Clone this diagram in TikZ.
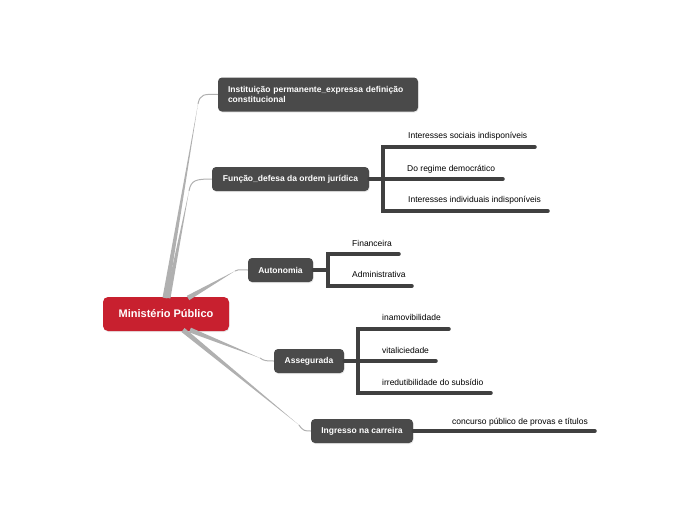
\documentclass[tikz,border=0pt]{standalone}
\usepackage{fontspec}
\setmainfont{Liberation Sans}
\usetikzlibrary{calc,shadows}
\definecolor{rootred}{HTML}{C8202F}
\definecolor{boxgray}{HTML}{4A4A4A}
\definecolor{linegray}{HTML}{404040}
\definecolor{conngray}{HTML}{B0B0B0}
\tikzset{
  topicbox/.style={draw=none, fill=boxgray, rounded corners=4pt, text=white,
    font=\bfseries\fontsize{8.5}{10}\selectfont, inner sep=0pt,
    drop shadow={opacity=0.18, shadow xshift=0.6pt, shadow yshift=-1pt}},
  rootbox/.style={draw=none, fill=rootred, rounded corners=5pt, text=white,
    font=\bfseries\fontsize{11}{13}\selectfont, inner sep=0pt,
    drop shadow={opacity=0.18, shadow xshift=0.6pt, shadow yshift=-1pt}},
  leaftext/.style={anchor=base west, inner sep=0pt, text=black,
    font=\fontsize{8.5}{10}\selectfont},
  subline/.style={draw=linegray, line width=3.5pt, line cap=round},
  taper/.style={fill=conngray, draw=none},
  thinconn/.style={draw=conngray, line width=1pt}
}
\begin{document}
\begin{tikzpicture}[x=1pt,y=-1pt]
\useasboundingbox (0,0) rectangle (697,520);

% nodes
\node[rootbox, minimum width=126pt, minimum height=34pt] (root) at (166,314) {Ministério Público};
\node[topicbox, minimum width=200pt, minimum height=34pt, text width=180pt, align=left] (inst) at (318,94.5)
  {Instituição permanente\_expressa definição\\constitucional};
\node[topicbox, minimum width=157pt, minimum height=24pt] (func) at (290.5,179) {Função\_defesa da ordem jurídica};
\node[topicbox, minimum width=65pt, minimum height=24pt] (auto) at (280.5,270) {Autonomia};
\node[topicbox, minimum width=70pt, minimum height=24pt] (asse) at (309,361) {Assegurada};
\node[topicbox, minimum width=102pt, minimum height=24pt] (ingr) at (362,431) {Ingresso na carreira};

% tapered connectors from root
\coordinate (s1) at (165,298); \coordinate (b1) at (198,104);
\coordinate (s2) at (168,298); \coordinate (b2) at (189,191);
\coordinate (s3) at (188,298); \coordinate (b3) at (235,271);
\coordinate (s4) at (190,330); \coordinate (b4) at (260,358);
\coordinate (s5) at (183,330); \coordinate (b5) at (299,425);

\fill[taper] ($(s1)!2.5pt!90:(b1)$) -- (b1) -- ($(s1)!2.5pt!-90:(b1)$) -- cycle;
\draw[thinconn] (b1) .. controls (200,94) and (204,94) .. (inst.west);
\fill[taper] ($(s2)!2.5pt!90:(b2)$) -- (b2) -- ($(s2)!2.5pt!-90:(b2)$) -- cycle;
\draw[thinconn] (b2) .. controls (191,180) and (196,179) .. (func.west);
\fill[taper] ($(s3)!2.5pt!90:(b3)$) -- (b3) -- ($(s3)!2.5pt!-90:(b3)$) -- cycle;
\draw[thinconn] (b3) .. controls (239,269) and (242,270) .. (auto.west);
\fill[taper] ($(s4)!2.5pt!90:(b4)$) -- (b4) -- ($(s4)!2.5pt!-90:(b4)$) -- cycle;
\draw[thinconn] (b4) .. controls (264,361) and (267,361) .. (asse.west);
\fill[taper] ($(s5)!2.5pt!90:(b5)$) -- (b5) -- ($(s5)!2.5pt!-90:(b5)$) -- cycle;
\draw[thinconn] (b5) .. controls (303,431) and (305,431) .. (ingr.west);

% Função branches
\coordinate (fj) at (383,179);
\coordinate (f1) at (535,147); \coordinate (f2) at (503,179); \coordinate (f3) at (548,211);
\draw[subline] (func.east) -- (fj);
\draw[subline] (f1) -- (383,147) -- (383,211) -- (f3);
\draw[subline] (fj) -- (f2);
\node[leaftext] (f1t) at (408,138) {Interesses sociais indisponíveis};
\node[leaftext] (f2t) at (407,171) {Do regime democrático};
\node[leaftext] (f3t) at (408,202) {Interesses individuais indisponíveis};

% Autonomia branches
\coordinate (aj) at (328,270);
\coordinate (a1) at (399,254); \coordinate (a2) at (412,286);
\draw[subline] (auto.east) -- (aj);
\draw[subline] (a1) -- (328,254) -- (328,286) -- (a2);
\node[leaftext] (a1t) at (352,246) {Financeira};
\node[leaftext] (a2t) at (352,277) {Administrativa};

% Assegurada branches
\coordinate (sj) at (358,361);
\coordinate (q1) at (449,329); \coordinate (q2) at (436,361); \coordinate (q3) at (491,393);
\draw[subline] (asse.east) -- (sj);
\draw[subline] (q1) -- (358,329) -- (358,393) -- (q3);
\draw[subline] (sj) -- (q2);
\node[leaftext] (q1t) at (382,320) {inamovibilidade};
\node[leaftext] (q2t) at (382,353) {vitaliciedade};
\node[leaftext] (q3t) at (382,385) {irredutibilidade do subsídio};

% Ingresso branch
\coordinate (i1) at (595,431);
\draw[subline] (ingr.east) -- (i1);
\node[leaftext] (i1t) at (452,424) {concurso público de provas e títulos};
\end{tikzpicture}
\end{document}
